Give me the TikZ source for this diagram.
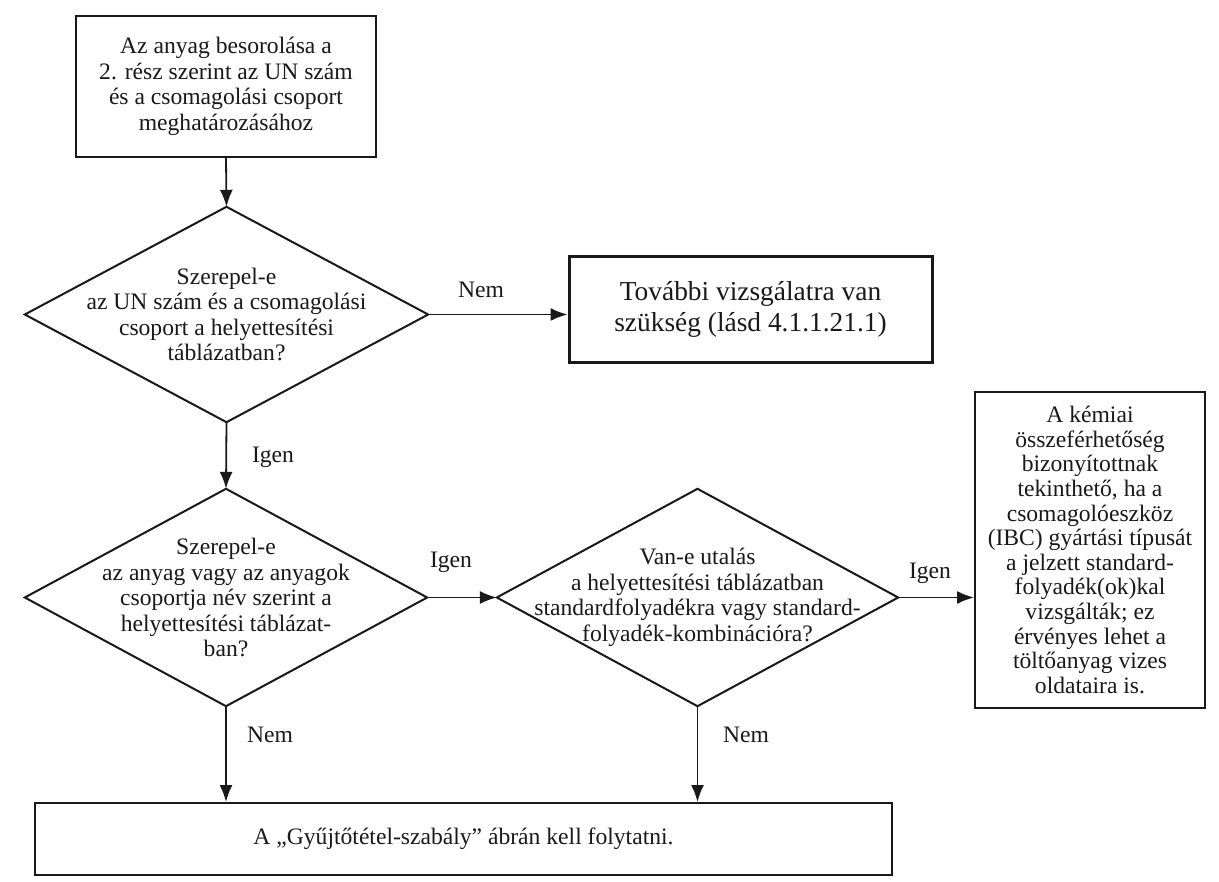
\documentclass[tikz,border=0pt]{standalone}
\usepackage{fontspec}
\setmainfont{Liberation Serif}
\usetikzlibrary{arrows.meta}
\definecolor{ink}{RGB}{25,25,25}
\begin{document}
\begin{tikzpicture}[x=1pt,y=-1pt,
  every node/.style={text=ink, font=\fontsize{23.6}{25.5}\selectfont},
  boxnode/.style={draw=ink, rectangle, align=center, inner sep=0pt},
  decnode/.style={rectangle, inner sep=0pt, align=center},
  arr/.style={draw=ink, line width=1.8pt, -{Latex[length=17pt,width=13pt]}},
  lbl/.style={inner sep=0pt, anchor=base},
  diam/.style={draw=ink, line width=2pt, line join=miter}
]
\useasboundingbox[fill=white] (0,0) rectangle (1219,882);

\node[boxnode, line width=1.6pt, minimum width=300pt, minimum height=141pt] (start) at (226,86.5)
  {Az anyag besorolása a\\2. rész szerint az UN szám\\és a csomagolási csoport\\meghatározásához};

\node[decnode, minimum width=403pt, minimum height=215pt] (d1) at (226.5,314.5)
  {Szerepel-e\\az UN szám és a csomagolási\\csoport a helyettesítési\\táblázatban?};
\draw[diam] (d1.north) -- (d1.east) -- (d1.south) -- (d1.west) -- cycle;

\node[boxnode, line width=3pt, minimum width=363pt, minimum height=106pt,
  font=\fontsize{27.4}{32}\selectfont] (tov) at (750.5,310)
  {\raisebox{4pt}{\begin{tabular}{@{}c@{}}További vizsgálatra van\\[-1pt]szükség (lásd 4.1.1.21.1)\end{tabular}}};

\node[decnode, minimum width=402pt, minimum height=217pt] (d2) at (226,597.5)
  {Szerepel-e\\az anyag vagy az anyagok\\csoportja név szerint a\\helyettesítési táblázat-\\ban?};
\draw[diam] (d2.north) -- (d2.east) -- (d2.south) -- (d2.west) -- cycle;

\node[decnode, minimum width=401pt, minimum height=217pt] (d3) at (697.5,597.5)
  {Van-e utalás\\a helyettesítési táblázatban\\standardfolyadékra vagy standard-\\folyadék-kombinációra?};
\draw[diam] (d3.north) -- (d3.east) -- (d3.south) -- (d3.west) -- cycle;

\node[boxnode, line width=2pt, minimum width=230pt, minimum height=316pt,
  font=\fontsize{23.6}{24.6}\selectfont] (rb) at (1090,550)
  {A kémiai\\összeférhetőség\\bizonyítottnak\\tekinthető, ha a\\csomagolóeszköz\\(IBC) gyártási típusát\\a jelzett standard-\\folyadék(ok)kal\\vizsgálták; ez\\érvényes lehet a\\töltőanyag vizes\\oldataira is.};

\node[boxnode, line width=2pt, minimum width=857pt, minimum height=72pt] (bb) at (463.5,839)
  {A „Gyűjtőtétel-szabály” ábrán kell folytatni.};

\draw[arr] (start.south) -- (d1.north);
\draw[arr] (d1.east) -- (d1.east -| tov.west);
\draw[arr] (d1.south) -- (d2.north);
\draw[arr] (d2.east) -- (d3.west);
\draw[arr] (d3.east) -- (d3.east -| rb.west);
\draw[arr] (d2.south) -- (d2.south |- bb.north);
\draw[arr] (d3.south) -- (d3.south |- bb.north);

\node[lbl] (l1) at (481,298) {Nem};
\node[lbl] (l2) at (273,463) {Igen};
\node[lbl] (l3) at (451,567) {Igen};
\node[lbl] (l4) at (930,578) {Igen};
\node[lbl] (l5) at (270,742) {Nem};
\node[lbl] (l6) at (746,742) {Nem};
\end{tikzpicture}
\end{document}
